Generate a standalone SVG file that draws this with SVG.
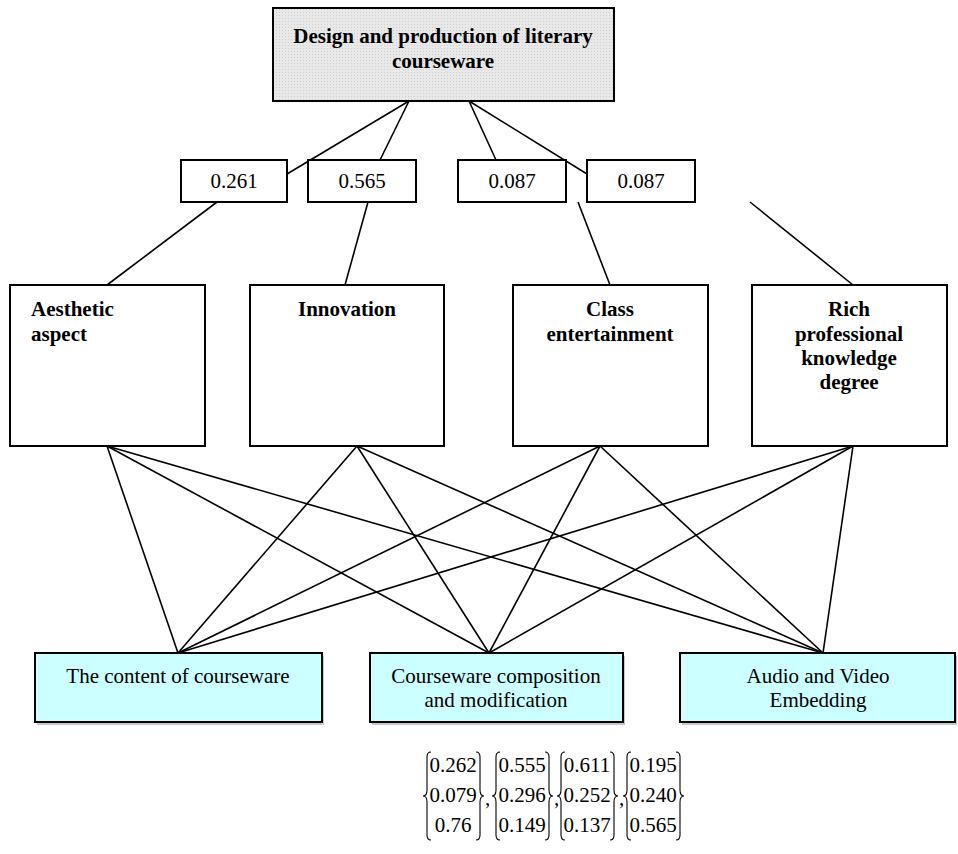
<svg xmlns="http://www.w3.org/2000/svg" width="958" height="854" viewBox="0 0 958 854">
  <defs>
    <pattern id="dots" width="3" height="3" patternUnits="userSpaceOnUse">
      <rect width="3" height="3" fill="#e8e8e8"/>
      <rect x="0" y="0" width="1" height="1" fill="#cfcfcf"/>
    </pattern>
    <style>
      .box { fill: #ffffff; stroke: #000; stroke-width: 2; }
      .top { fill: url(#dots); stroke: #000; stroke-width: 2; }
      .leaf { fill: #ccffff; stroke: #000; stroke-width: 2; }
      .shadow { fill: #c8c8c8; }
      .ln { stroke: #000; stroke-width: 1.6; fill: none; }
      .br { stroke: #000; stroke-width: 1.1; fill: none; }
      text { font-family: "Liberation Serif", "Times New Roman", serif; font-size: 21px; fill: #000; }
      .b { font-weight: bold; }
      .c { text-anchor: middle; }
    </style>
  </defs>
  <rect width="958" height="854" fill="#ffffff"/>

  <g id="connectors">
    <line class="ln" x1="409" y1="101" x2="287" y2="174"/>
    <line class="ln" x1="409" y1="101" x2="380" y2="160"/>
    <line class="ln" x1="469" y1="101" x2="496" y2="160"/>
    <line class="ln" x1="469" y1="101" x2="587" y2="174"/>
    <line class="ln" x1="217" y1="202" x2="107" y2="285"/>
    <line class="ln" x1="368" y1="202" x2="345" y2="285"/>
    <line class="ln" x1="578" y1="202" x2="610" y2="285"/>
    <line class="ln" x1="750" y1="202" x2="853" y2="285"/>
    <line class="ln" x1="107" y1="446" x2="178" y2="653"/>
    <line class="ln" x1="107" y1="446" x2="489" y2="653"/>
    <line class="ln" x1="107" y1="446" x2="823" y2="653"/>
    <line class="ln" x1="357" y1="446" x2="178" y2="653"/>
    <line class="ln" x1="357" y1="446" x2="489" y2="653"/>
    <line class="ln" x1="357" y1="446" x2="823" y2="653"/>
    <line class="ln" x1="600" y1="446" x2="178" y2="653"/>
    <line class="ln" x1="600" y1="446" x2="489" y2="653"/>
    <line class="ln" x1="600" y1="446" x2="823" y2="653"/>
    <line class="ln" x1="853" y1="446" x2="178" y2="653"/>
    <line class="ln" x1="853" y1="446" x2="489" y2="653"/>
    <line class="ln" x1="853" y1="446" x2="823" y2="653"/>
  </g>

  <g id="goal">
    <rect class="top" x="273" y="8" width="341" height="93"/>
    <text class="b c" x="443" y="43">Design and production of literary</text>
    <text class="b c" x="443" y="68">courseware</text>
  </g>

  <g id="w1">
    <rect class="box" x="181" y="160" width="106" height="42"/>
    <text class="c" x="234" y="188">0.261</text>
  </g>
  <g id="w2">
    <rect class="box" x="308" y="160" width="108" height="42"/>
    <text class="c" x="362" y="188">0.565</text>
  </g>
  <g id="w3">
    <rect class="box" x="458" y="160" width="108" height="42"/>
    <text class="c" x="512" y="188">0.087</text>
  </g>
  <g id="w4">
    <rect class="box" x="587" y="160" width="108" height="42"/>
    <text class="c" x="641" y="188">0.087</text>
  </g>

  <g id="aesthetic">
    <rect class="box" x="10" y="285" width="195" height="161"/>
    <text class="b" x="31" y="316">Aesthetic</text>
    <text class="b" x="31" y="341">aspect</text>
  </g>
  <g id="innovation">
    <rect class="box" x="250" y="285" width="194" height="161"/>
    <text class="b c" x="347" y="316">Innovation</text>
  </g>
  <g id="entertainment">
    <rect class="box" x="513" y="285" width="195" height="161"/>
    <text class="b c" x="610" y="316">Class</text>
    <text class="b c" x="610" y="341">entertainment</text>
  </g>
  <g id="knowledge">
    <rect class="box" x="752" y="285" width="195" height="161"/>
    <text class="b c" x="849" y="316">Rich</text>
    <text class="b c" x="849" y="341">professional</text>
    <text class="b c" x="849" y="365">knowledge</text>
    <text class="b c" x="849" y="389">degree</text>
  </g>

  <g id="content">
    <rect class="shadow" x="37" y="656" width="287" height="69"/>
    <rect class="leaf" x="35" y="653" width="287" height="69"/>
    <text class="c" x="178" y="683">The content of courseware</text>
  </g>
  <g id="composition">
    <rect class="shadow" x="372" y="656" width="253" height="69"/>
    <rect class="leaf" x="370" y="653" width="253" height="69"/>
    <text class="c" x="496" y="683">Courseware composition</text>
    <text class="c" x="496" y="707">and modification</text>
  </g>
  <g id="media">
    <rect class="shadow" x="682" y="656" width="275" height="69"/>
    <rect class="leaf" x="680" y="653" width="275" height="69"/>
    <text class="c" x="818" y="683">Audio and Video</text>
    <text class="c" x="818" y="707">Embedding</text>
  </g>

  <g id="vectors">
    <path class="br" d="M431 752 Q427 752 427 757 L427 790 Q427 796 423 796 Q427 796 427 802 L427 835 Q427 840 431 840"/>
    <path class="br" d="M476 752 Q480 752 480 757 L480 790 Q480 796 484 796 Q480 796 480 802 L480 835 Q480 840 476 840"/>
    <text class="c" x="453" y="772">0.262</text>
    <text class="c" x="453" y="802">0.079</text>
    <text class="c" x="453" y="832">0.76</text>
    <text x="485" y="805">,</text>
    <path class="br" d="M500 752 Q496 752 496 757 L496 790 Q496 796 492 796 Q496 796 496 802 L496 835 Q496 840 500 840"/>
    <path class="br" d="M545 752 Q549 752 549 757 L549 790 Q549 796 553 796 Q549 796 549 802 L549 835 Q549 840 545 840"/>
    <text class="c" x="522" y="772">0.555</text>
    <text class="c" x="522" y="802">0.296</text>
    <text class="c" x="522" y="832">0.149</text>
    <text x="554" y="805">,</text>
    <path class="br" d="M565 752 Q561 752 561 757 L561 790 Q561 796 557 796 Q561 796 561 802 L561 835 Q561 840 565 840"/>
    <path class="br" d="M610 752 Q614 752 614 757 L614 790 Q614 796 618 796 Q614 796 614 802 L614 835 Q614 840 610 840"/>
    <text class="c" x="587" y="772">0.611</text>
    <text class="c" x="587" y="802">0.252</text>
    <text class="c" x="587" y="832">0.137</text>
    <text x="619" y="805">,</text>
    <path class="br" d="M631 752 Q627 752 627 757 L627 790 Q627 796 623 796 Q627 796 627 802 L627 835 Q627 840 631 840"/>
    <path class="br" d="M676 752 Q680 752 680 757 L680 790 Q680 796 684 796 Q680 796 680 802 L680 835 Q680 840 676 840"/>
    <text class="c" x="653" y="772">0.195</text>
    <text class="c" x="653" y="802">0.240</text>
    <text class="c" x="653" y="832">0.565</text>
  </g>
</svg>
